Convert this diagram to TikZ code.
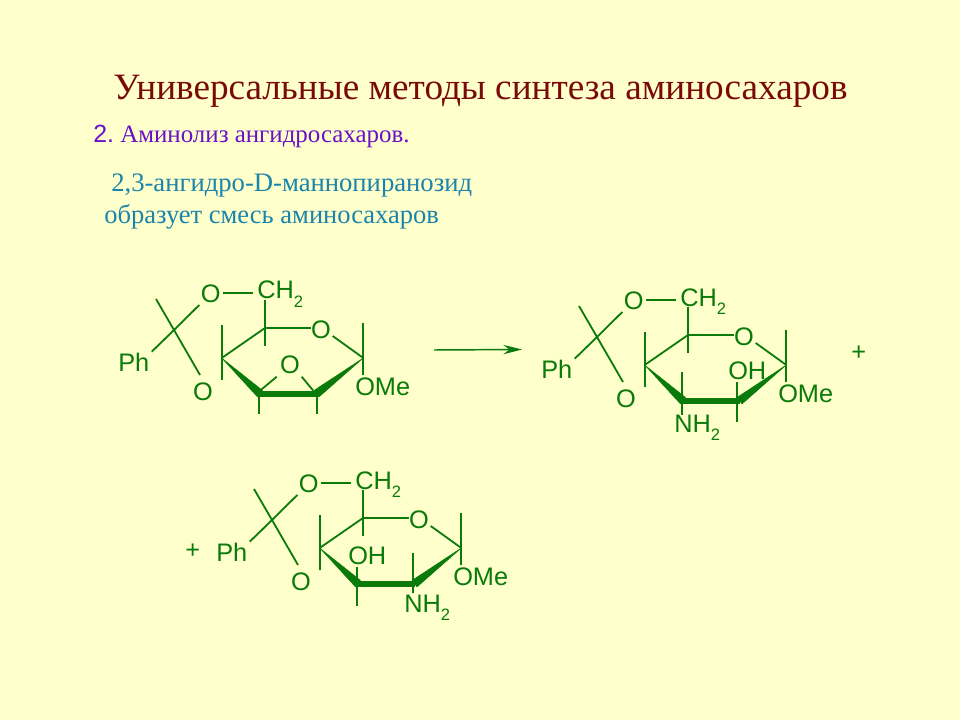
\documentclass[tikz,border=0pt]{standalone}
\usepackage{fontspec}
\setmainfont{Liberation Serif}
\setsansfont{Liberation Sans}
\usetikzlibrary{arrows.meta}
\definecolor{bgc}{HTML}{FFFFCC}
\definecolor{chem}{HTML}{0A7A0A}
\definecolor{titlec}{HTML}{7A0A0A}
\definecolor{subc}{HTML}{6A10C8}
\definecolor{bluec}{HTML}{1A84AC}
\newcommand{\subtwo}{\raisebox{-6pt}{\fontsize{12.4pt}{14pt}\selectfont 2}}
\tikzset{
  bondline/.style={draw=chem,line width=1.35pt},
  boldbond/.style={draw=chem,line width=4.8pt},
  wedgefill/.style={fill=chem,draw=chem,line width=0.3pt,line join=round},
  atomlabel/.style={text=chem,inner sep=0pt,font=\sffamily\fontsize{19pt}{22pt}\selectfont},
  atombase/.style={atomlabel,anchor=base west},
  serif title/.style={inner sep=0pt,anchor=base west}
}
% #1 prefix, #2 dx, #3 dy, #4 ring-bottom content
\newcommand{\sugar}[4]{%
\begin{scope}[shift={(#2,#3)},name prefix=#1-]
  \coordinate (acetal) at (174,330);
  \coordinate (c4) at (221.7,358);
  \coordinate (c5) at (265,328);
  \coordinate (c1) at (363.3,358);
  \coordinate (c3) at (259.3,393.7);
  \coordinate (c2) at (316.7,393.7);
  \node[atomlabel] (otop) at (210.7,293.5) {O};
  \node[atomlabel] (obot) at (203,392) {O};
  \node[atomlabel] (oring) at (321,329.3) {O};
  \node[atombase] (ch2) at (257,299) {CH\subtwo};
  \node[atombase] (ph) at (118,371.5) {Ph};
  \node[atombase] (ome) at (355,395) {OMe};
  \coordinate (a1) at (156,299);
  \coordinate (a2) at (151.7,351.7);
  \coordinate (c4u) at (221.7,325);
  \coordinate (c4d) at (221.7,380);
  \coordinate (c5u) at (265,300);
  \coordinate (c5d) at (265,346);
  \coordinate (c1u) at (363.3,323.3);
  \coordinate (c1d) at (363.3,375);
  \draw[bondline] (a1) -- (acetal) -- (200,375);
  \draw[bondline] (199.3,305) -- (acetal) -- (a2);
  \draw[bondline] (222.7,293) -- (253,293);
  \draw[bondline] (c4u) -- (c4d);
  \draw[bondline] (c5u) -- (c5d);
  \draw[bondline] (c5) -- (310.7,328);
  \draw[bondline] (c5) -- (c4);
  \draw[bondline] (332.7,336) -- (c1);
  \draw[bondline] (c1u) -- (c1d);
  \fill[wedgefill] (c4) -- (262.5,390.4) -- (257.5,397) -- cycle;
  \fill[wedgefill] (c1) -- (319,397) -- (314,390.4) -- cycle;
  \draw[boldbond] (c3) -- (c2);
  #4
\end{scope}}
\begin{document}
\begin{tikzpicture}[x=0.75pt,y=-0.75pt]
\useasboundingbox (0,0) rectangle (960,720);
\fill[bgc] (0,0) rectangle (960,720);
\node[serif title,text=titlec,font=\fontsize{27.9pt}{32pt}\selectfont] (title) at (113,100) {Универсальные методы синтеза аминосахаров};
\node[serif title,text=subc,font=\fontsize{18.7pt}{22pt}\selectfont] (sub) at (93,142.5) {{\sffamily 2.}\kern-1.5pt{} Аминолиз ангидросахаров.};
\node[serif title,text=bluec,font=\fontsize{20pt}{24pt}\selectfont] (l1) at (111,191.5) {2,3-ангидро-D-маннопиранозид};
\node[serif title,text=bluec,font=\fontsize{19.9pt}{24pt}\selectfont] (l2) at (104,223.5) {образует смесь аминосахаров};
\sugar{s1}{0}{0}{%
  \node[atomlabel] (oep) at (290,365) {O};
  \draw[bondline] (c3) -- (c3 |- 0,414);
  \draw[bondline] (c2) -- (c2 |- 0,414);
  \draw[bondline] (260,390.7) -- (276.7,376.7);
  \draw[bondline] (313.3,390.7) -- (301.7,376.7);
}
\sugar{s2}{423}{7}{%
  \node[atombase] (oh) at (305,372.3) {OH};
  \node[atombase] (nh2) at (251,425.7) {NH\subtwo};
  \draw[bondline] (259.3,365) -- (259.3,408);
  \draw[bondline] (314.3,375) -- (314.3,414.7);
}
\sugar{s3}{98}{190}{%
  \node[atombase] (oh) at (250,374) {OH};
  \node[atombase] (nh2) at (306,422.7) {NH\subtwo};
  \draw[bondline] (259,376.7) -- (259,415.7);
  \draw[bondline] (314.6,362.7) -- (314.6,403);
}
\coordinate (arrs) at (434,350);
\coordinate (arre) at (522,349.5);
\draw[draw=chem,line width=1.1pt,-{Stealth[length=14pt,width=7pt]}] (arrs) -- (arre);
\node[atomlabel] (plus1) at (858.7,353) {+};
\node[atomlabel] (plus2) at (192.7,550.7) {+};
\end{tikzpicture}
\end{document}
